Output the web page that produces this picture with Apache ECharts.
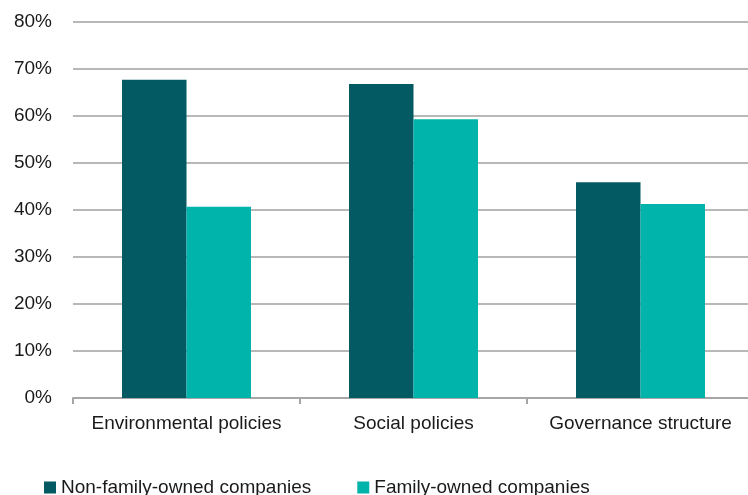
<!DOCTYPE html>
<html><head><meta charset="utf-8">
<script src="https://cdn.jsdelivr.net/npm/echarts@6/dist/echarts.min.js"></script>
<style>html,body{margin:0;padding:0;background:#fff}#c{width:748px;height:495px}</style>
</head><body><div id="c"></div>
<script>
const categories = ['Environmental policies', 'Social policies', 'Governance structure'];
const seriesNames = ['Non-family-owned companies', 'Family-owned companies'];
const nonFamily = [67.7, 66.8, 45.9];
const family = [40.7, 59.3, 41.3];
const yTicks = [0, 10, 20, 30, 40, 50, 60, 70, 80];

const font = 'Liberation Sans';
const chart = echarts.init(document.getElementById('c'));
chart.setOption({
  animation: false,
  textStyle: { fontFamily: font },
  grid: { left: 73, width: 681, top: 22, bottom: 97, outerBoundsMode: 'none', containLabel: false },
  legend: {
    left: 39, top: 473,
    itemWidth: 12, itemHeight: 12, itemGap: 46,
    icon: 'rect',
    textStyle: { fontFamily: font, fontSize: 19, color: '#1a1a1a' },
    data: seriesNames
  },
  xAxis: {
    type: 'category', data: categories,
    axisLine: { lineStyle: { color: '#a6a6a6', width: 2 } },
    axisTick: { show: true, interval: 0, length: 6, lineStyle: { color: '#a6a6a6', width: 2 } },
    axisLabel: { interval: 0, fontFamily: font, fontSize: 19, color: '#1a1a1a', margin: 16 }
  },
  yAxis: {
    type: 'value', min: yTicks[0], max: yTicks[yTicks.length - 1], interval: 10,
    axisLine: { show: false }, axisTick: { show: false },
    splitLine: { lineStyle: { color: '#b8b8b8', width: 2 } },
    axisLabel: { fontFamily: font, fontSize: 19, color: '#1a1a1a', margin: 21, formatter: v => v + '%' }
  },
  series: [
    { name: seriesNames[0], type: 'bar', data: nonFamily, barWidth: 64.5, barGap: '0%',
      itemStyle: { color: '#035a63' } },
    { name: seriesNames[1], type: 'bar', data: family, barWidth: 64.5, barGap: '0%',
      itemStyle: { color: '#00b3ab' } }
  ]
});
</script></body></html>
